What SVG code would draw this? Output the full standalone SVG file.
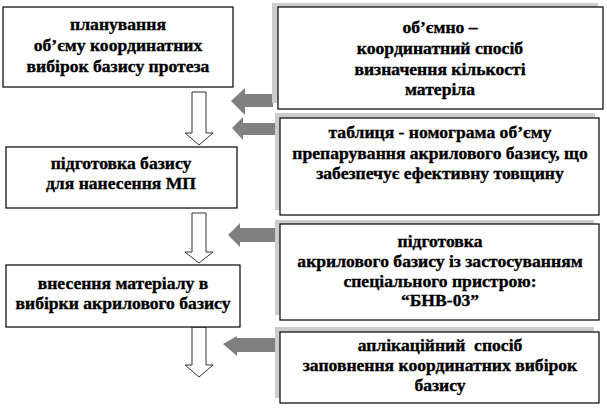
<svg xmlns="http://www.w3.org/2000/svg" width="607" height="409" viewBox="0 0 607 409">
<style>
.box{fill:#fff;stroke:#000;stroke-width:1.2}
.sh{fill:#cccccc}
.t{font-family:'Liberation Serif','Times New Roman',serif;font-weight:700;font-size:17.6px;text-anchor:middle;fill:#000;stroke:#000;stroke-width:0.35}
.ha{fill:#fff;stroke:#333;stroke-width:1}
.ga{fill:#808080}
</style>
<rect width="607" height="409" fill="#fff"/>
<g id="connectors">
<polygon class="ha" points="192,92 206,92 206,133 213,133 199,145 185,133 192,133"/>
<polygon class="ha" points="192,213 206,213 206,252 213,252 199,263 185,252 192,252"/>
<polygon class="ha" points="192,327 206,327 206,365 213,365 199,377 185,365 192,365"/>
<polygon class="ga" points="231,101 245,88 245,94 273,94 273,107 245,107 245,115"/>
<polygon class="ga" points="232,128 243,117 243,123 275,123 275,135 243,135 243,140"/>
<polygon class="ga" points="228,235 240,223 240,228 275,228 275,242 240,242 240,247"/>
<polygon class="ga" points="223,344 237,336 237,338 275,338 275,352 237,352 237,356"/>
</g>
<g id="n1">
<rect class="box" x="3" y="7" width="230" height="80"/>
<text class="t" x="118" y="30">планування</text>
<text class="t" x="118" y="51">об’єму координатних</text>
<text class="t" x="118" y="72">вибірок базису протеза</text>
</g>
<g id="n2">
<rect class="box" x="6" y="147" width="231" height="61"/>
<text class="t" x="121" y="169">підготовка базису</text>
<text class="t" x="121" y="189">для нанесення МП</text>
</g>
<g id="n3">
<rect class="box" x="6" y="265" width="234" height="62"/>
<text class="t" x="123" y="289">внесення матеріалу в</text>
<text class="t" x="123" y="309">вибірки акрилового базису</text>
</g>
<g id="r1">
<rect class="sh" x="272" y="3" width="326" height="100"/>
<rect class="box" x="278" y="7" width="325" height="102"/>
<text class="t" x="440" y="33">об’ємно –</text>
<text class="t" x="440" y="54">координатний спосіб</text>
<text class="t" x="440" y="75">визначення кількості</text>
<text class="t" x="440" y="95">матеріла</text>
</g>
<g id="r2">
<rect class="sh" x="275" y="113" width="320" height="97"/>
<rect class="box" x="280" y="118" width="319" height="97"/>
<text class="t" x="440" y="138">таблиця - номограма об’єму</text>
<text class="t" x="440" y="159">препарування акрилового базису, що</text>
<text class="t" x="440" y="179">забезпечує ефективну товщину</text>
</g>
<g id="r3">
<rect class="sh" x="275" y="220" width="319" height="95"/>
<rect class="box" x="280" y="224" width="319" height="96"/>
<text class="t" x="440" y="247">підготовка</text>
<text class="t" x="440" y="267">акрилового базису із застосуванням</text>
<text class="t" x="440" y="287">спеціального пристрою:</text>
<text class="t" x="440" y="306">“БНВ-03”</text>
</g>
<g id="r4">
<rect class="sh" x="275" y="327" width="319" height="71"/>
<rect class="box" x="280" y="332" width="319" height="71"/>
<text class="t" x="440" y="351" style="white-space:pre">аплікаційний  спосіб</text>
<text class="t" x="440" y="371">заповнення координатних вибірок</text>
<text class="t" x="440" y="391">базису</text>
</g>
</svg>
